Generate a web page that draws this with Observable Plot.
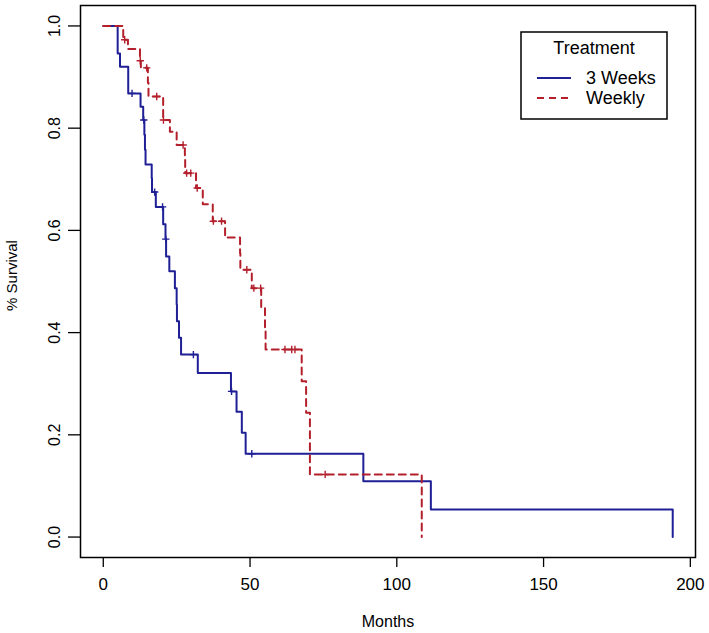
<!DOCTYPE html>
<html>
<head>
<meta charset="utf-8">
<script src="https://cdn.jsdelivr.net/npm/d3@7"></script>
<script src="https://cdn.jsdelivr.net/npm/@observablehq/plot@0.6"></script>
<style>
  html, body { margin: 0; padding: 0; background: white; }
  #chart { position: relative; width: 709px; height: 633px; overflow: hidden; }
</style>
</head>
<body>
<div id="chart"></div>
<script>
// ---- Data ----
const seriesNames = ["3 Weeks", "Weekly"];
const seriesColors = ["#1f1f96", "#b3202c"];

const weeks3Time = [0, 4.9, 5.7, 8.5, 12.7, 13.6, 14.0, 14.2, 14.4, 16.5, 16.6, 17.9, 20.4, 21.2, 21.4, 22.5, 24.4, 25.0, 25.1, 25.8, 26.5, 32.2, 43.5, 45.4, 47.2, 48.5, 88.6, 111.6, 194];
const weeks3Surv = [1, 0.946, 0.920, 0.868, 0.842, 0.816, 0.787, 0.758, 0.729, 0.702, 0.675, 0.646, 0.612, 0.583, 0.549, 0.520, 0.487, 0.455, 0.422, 0.390, 0.357, 0.321, 0.285, 0.245, 0.204, 0.163, 0.109, 0.054, 0];
const weeks3CensorTime = [9.8, 13.8, 17.5, 20.2, 21.3, 30.7, 43.7, 50.6];
const weeks3CensorSurv = [0.868, 0.816, 0.675, 0.646, 0.583, 0.357, 0.285, 0.163];

const weeklyTime = [0, 6.8, 8.4, 12.5, 12.8, 15.2, 15.4, 20.4, 22.7, 25.0, 27.8, 27.9, 31.6, 33.9, 37.3, 41.5, 46.6, 46.7, 50.6, 53.8, 55.1, 55.3, 67.6, 69.1, 70.4, 108.5];
const weeklySurv = [1, 0.973, 0.955, 0.932, 0.918, 0.889, 0.862, 0.816, 0.793, 0.767, 0.738, 0.712, 0.683, 0.651, 0.618, 0.586, 0.555, 0.523, 0.487, 0.449, 0.408, 0.367, 0.305, 0.243, 0.1225, 0];
const weeklyCensorTime = [7.3, 12.6, 14.8, 18.2, 20.5, 27.2, 28.4, 29.8, 32.0, 37.5, 40.3, 48.9, 51.3, 53.6, 61.9, 64.2, 65.3, 75.6];
const weeklyCensorSurv = [0.973, 0.932, 0.918, 0.862, 0.816, 0.767, 0.712, 0.712, 0.683, 0.618, 0.618, 0.523, 0.487, 0.487, 0.367, 0.367, 0.367, 0.1225];

const xTicks = [0, 50, 100, 150, 200];
const yTicks = [0, 0.2, 0.4, 0.6, 0.8, 1.0];
const xLabel = "Months";
const yLabel = "% Survival";
const legendTitle = "Treatment";

// ---- Build tables ----
const toRows = (t, s) => t.map((d, i) => ({time: d, surv: s[i]}));
const weeks3 = toRows(weeks3Time, weeks3Surv);
const weekly = toRows(weeklyTime, weeklySurv);
const weeks3Cens = toRows(weeks3CensorTime, weeks3CensorSurv);
const weeklyCens = toRows(weeklyCensorTime, weeklyCensorSurv);

const font = "'Liberation Sans', Arial, sans-serif";

const plot = Plot.plot({
  width: 709,
  height: 633,
  marginLeft: 80,
  marginRight: 14,
  marginTop: 5,
  marginBottom: 76,
  x: {domain: [-7.76, 201.76]},
  y: {domain: [-0.04, 1.04]},
  style: {fontFamily: font, fontSize: "17px", background: "white", color: "black"},
  marks: [
    Plot.axisX({ticks: xTicks, tickSize: 10, tickPadding: 10, tickFormat: d3.format("d"), label: null, fontSize: 17, strokeWidth: 1.3}),
    Plot.axisY({ticks: yTicks, tickSize: 12, tickFormat: () => "", label: null, strokeWidth: 1.3}),
    Plot.text(yTicks, {y: d => d, text: d => d.toFixed(1), frameAnchor: "left", textAnchor: "middle", lineAnchor: "middle", dx: -26, rotate: -90, fontSize: 16}),
    Plot.text([yLabel], {frameAnchor: "left", textAnchor: "middle", lineAnchor: "middle", dx: -68, dy: -6, rotate: -90, fontSize: 15}),
    Plot.text([xLabel], {frameAnchor: "bottom", lineAnchor: "middle", dy: 64, fontSize: 16}),
    Plot.line(weeks3, {x: "time", y: "surv", curve: "step-after", stroke: seriesColors[0], strokeWidth: 2}),
    Plot.line(weekly, {x: "time", y: "surv", curve: "step-after", stroke: seriesColors[1], strokeWidth: 2, strokeDasharray: "7,5"}),
    Plot.dot(weeks3Cens, {x: "time", y: "surv", symbol: "plus", r: 2.5, stroke: seriesColors[0], strokeWidth: 1.4}),
    Plot.dot(weeklyCens, {x: "time", y: "surv", symbol: "plus", r: 2.5, stroke: seriesColors[1], strokeWidth: 1.4}),
    Plot.frame({stroke: "black", strokeWidth: 1.5})
  ]
});

document.getElementById("chart").appendChild(plot);

// ---- Legend (inside plot, top-right) ----
const svg = d3.select(plot);
const lg = svg.append("g").attr("transform", "translate(521,32)").style("font-family", font);
lg.append("rect").attr("width", 146).attr("height", 87).attr("fill", "white").attr("stroke", "black").attr("stroke-width", 1.5);
lg.append("text").attr("x", 73).attr("y", 22).attr("text-anchor", "middle").style("font-size", "18px").text(legendTitle);
seriesNames.forEach((name, i) => {
  const yy = 46 + i * 20;
  lg.append("line").attr("x1", 16).attr("x2", 50).attr("y1", yy).attr("y2", yy)
    .attr("stroke", seriesColors[i]).attr("stroke-width", 2)
    .attr("stroke-dasharray", i === 1 ? "7,5" : null);
  lg.append("text").attr("x", 65).attr("y", yy + 6).attr("text-anchor", "start").style("font-size", "18px").text(name);
});
</script>
</body>
</html>
